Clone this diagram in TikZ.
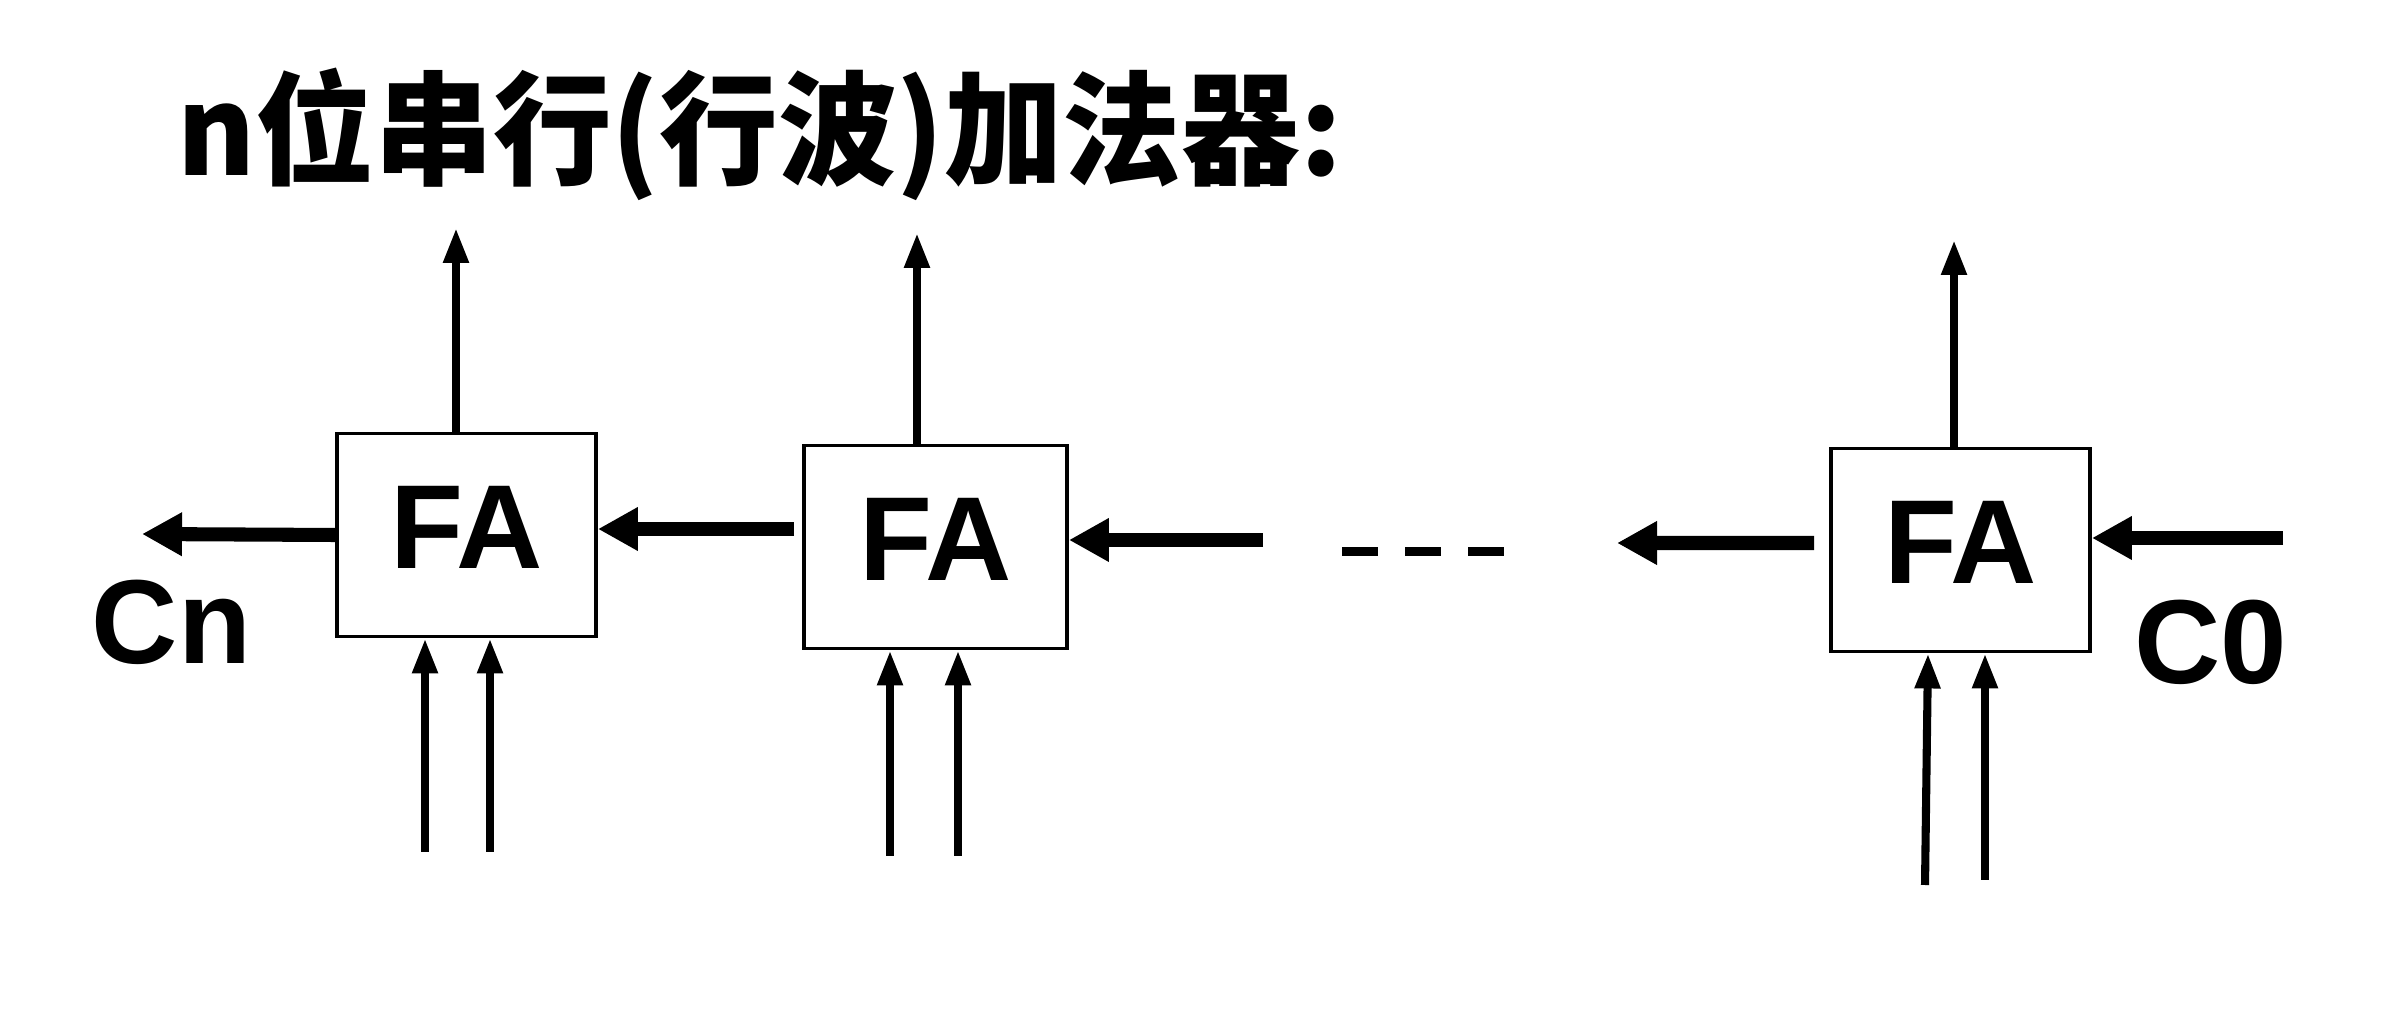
\documentclass[tikz,border=0pt]{standalone}
\usepackage{fontspec}
\setmainfont{Liberation Sans}
\newfontfamily\cjk{Noto Sans CJK SC}
\usetikzlibrary{arrows.meta}

\begin{document}
\begin{tikzpicture}[x=0.1mm,y=-0.1mm,
 blk/.style={shape=rectangle,draw=black,line width=1.1pt,minimum width=25.9mm,minimum height=20.3mm,inner sep=0pt,text depth=1.6mm,font=\fontsize{34pt}{34pt}\selectfont\bfseries},
 lbl/.style={inner sep=0pt,anchor=base,font=\fontsize{34pt}{34pt}\selectfont\bfseries},
 sumwire/.style={line width=2.3pt,-{Triangle[length=3.5mm,width=2.4mm]}},
 carrywire/.style={line width=4pt,-{Triangle[length=4mm,width=4.1mm]}}]
 \useasboundingbox (0,0) rectangle (2397,1025);
 \node (title) at (177,176) [anchor=base west,inner sep=0pt,xscale=0.965,font=\fontsize{35pt}{35pt}\selectfont\cjk\bfseries] {n位串行(行波)加法器:};
 \node (fa 1) at (466.5,535) [blk] {FA};
 \node (fa 2) at (935.5,547) [blk,minimum width=26.3mm] {FA};
 \node (fa 3) at (1960.5,550) [blk] {FA};
 \node (cn) at (171.5,664) [lbl] {Cn};
 \node (c0) at (2210.5,684) [lbl] {C0};
 \coordinate (s 1) at (456,228);
 \coordinate (s 2) at (917,233);
 \coordinate (s 3) at (1954,240);
 \coordinate (a 1) at (425,852);
 \coordinate (b 1) at (490,852);
 \coordinate (a 2) at (890,856);
 \coordinate (b 2) at (958,856);
 \coordinate (a 3) at (1925,885);
 \coordinate (t 3) at (1928,0);
 \coordinate (b 3) at (1985,880);
 \coordinate (cn tip) at (142,534);
 \coordinate (c 2) at (794,529);
 \coordinate (c 3) at (1263,540);
 \coordinate (c 4) at (1617,543);
 \coordinate (c 1) at (2283,538);
 \coordinate (dots l) at (1342,552);
 \coordinate (dots r) at (1504,552);
 \draw[sumwire] (fa 1.north -| s 1) -- (s 1);
 \draw[sumwire] (fa 2.north -| s 2) -- (s 2);
 \draw[sumwire] (fa 3.north -| s 3) -- (s 3);
 \draw[sumwire] (a 1) -- (a 1 |- fa 1.south);
 \draw[sumwire] (b 1) -- (b 1 |- fa 1.south);
 \draw[sumwire] (a 2) -- (a 2 |- fa 2.south);
 \draw[sumwire] (b 2) -- (b 2 |- fa 2.south);
 \draw[sumwire] (a 3) -- (t 3 |- fa 3.south);
 \draw[sumwire] (b 3) -- (b 3 |- fa 3.south);
 \draw[carrywire] (fa 1.west) -- (cn tip);
 \draw[carrywire] (c 2) -- (c 2 -| fa 1.east);
 \draw[carrywire] (c 3) -- (c 3 -| fa 2.east);
 \draw[carrywire] ([xshift=-1.5mm,yshift=0.7mm]fa 3.west) -- (c 4);
 \draw[carrywire] (c 1) -- (c 1 -| fa 3.east);
 \draw[line width=0.9mm,dash pattern=on 3.6mm off 2.7mm] (dots l) -- (dots r);
\end{tikzpicture}
\end{document}
